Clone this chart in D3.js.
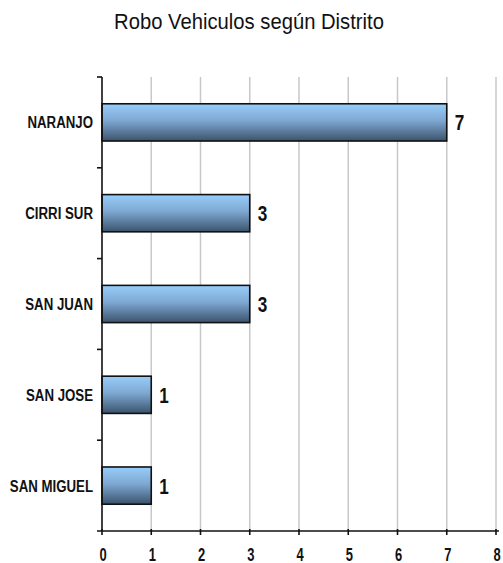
<!DOCTYPE html>
<html><head><meta charset="utf-8">
<script src="https://cdn.jsdelivr.net/npm/d3@7"></script>
<style>body{margin:0;background:#fff}svg{display:block}</style>
</head><body>
<svg id="c" width="503" height="563"></svg>
<script>
const title = "Robo Vehiculos según Distrito";
const categories = ["NARANJO", "CIRRI SUR", "SAN JUAN", "SAN JOSE", "SAN MIGUEL"];
const values = [7, 3, 3, 1, 1];
const xTicks = [0, 1, 2, 3, 4, 5, 6, 7, 8];

const svg = d3.select("#c");
const FONT = "'Liberation Sans Narrow','Arial Narrow','Liberation Sans',Arial,sans-serif";
const x = d3.scaleLinear().domain([0, 8]).range([102, 496]);
const y = d3.scaleBand().domain(categories).range([77, 531]).paddingInner(0.59).paddingOuter(0.295);
const step = y.step();

// condensed text helper: position via transform, squeeze horizontally
function place(sel, fx, fy, sx) {
  sel.attr("x", 0).attr("y", 0)
     .attr("transform", (d, i) => `translate(${fx(d, i)},${fy(d, i)}) scale(${sx},1)`);
  return sel;
}

const defs = svg.append("defs");
const g = defs.append("linearGradient").attr("id", "bg").attr("x1", 0).attr("y1", 0).attr("x2", 0).attr("y2", 1);
g.append("stop").attr("offset", "0%").attr("stop-color", "#98cdfb");
g.append("stop").attr("offset", "45%").attr("stop-color", "#7ea8d2");
g.append("stop").attr("offset", "100%").attr("stop-color", "#3b536c");

// title
place(svg.append("text").attr("text-anchor", "middle")
  .style("font-family", FONT).style("font-size", "22px").attr("fill", "#111").text(title),
  () => 249, () => 29, 0.92);

// gridlines
svg.append("g").selectAll("line").data(xTicks.filter(d => d > 0)).join("line")
  .attr("x1", d => x(d)).attr("x2", d => x(d)).attr("y1", 77).attr("y2", 531)
  .attr("stroke", "#c8c8c8").attr("stroke-width", 1.5);

// bars
svg.append("g").selectAll("rect").data(categories).join("rect")
  .attr("x", x(0)).attr("y", d => y(d))
  .attr("width", (d, i) => x(values[i]) - x(0)).attr("height", y.bandwidth())
  .attr("fill", "url(#bg)").attr("stroke", "#111").attr("stroke-width", 1.6);

// value labels
place(svg.append("g").selectAll("text").data(categories).join("text")
  .style("font-family", FONT).style("font-size", "22px").style("font-weight", "bold").attr("fill", "#111")
  .text((d, i) => values[i]),
  (d, i) => x(values[i]) + 8, d => y(d) + y.bandwidth() / 2 + 8, 0.78);

// y axis
const ya = svg.append("g");
ya.append("line").attr("x1", x(0)).attr("x2", x(0)).attr("y1", 77).attr("y2", 531)
  .attr("stroke", "#111").attr("stroke-width", 1.6);
const bounds = categories.map(d => y(d) - y.paddingInner() * step / 2);
ya.selectAll("line.t").data(bounds).join("line").attr("class", "t")
  .attr("x1", x(0) - 5).attr("x2", x(0)).attr("y1", d => d).attr("y2", d => d)
  .attr("stroke", "#111").attr("stroke-width", 1.6);
place(ya.selectAll("text").data(categories).join("text").attr("text-anchor", "end")
  .style("font-family", FONT).style("font-size", "17px").style("font-weight", "bold")
  .attr("fill", "#111").text(d => d),
  () => 93, d => y(d) + y.bandwidth() / 2 + 6, 0.78);

// x axis
const xa = svg.append("g");
xa.append("line").attr("x1", x(0) - 5).attr("x2", x(8) + 3).attr("y1", 531).attr("y2", 531)
  .attr("stroke", "#111").attr("stroke-width", 1.6);
xa.selectAll("line.t").data(xTicks).join("line").attr("class", "t")
  .attr("x1", d => x(d)).attr("x2", d => x(d)).attr("y1", 529).attr("y2", 535)
  .attr("stroke", "#111").attr("stroke-width", 1.6);
place(xa.selectAll("text").data(xTicks).join("text").attr("text-anchor", "middle")
  .style("font-family", FONT).style("font-size", "18px").style("font-weight", "bold")
  .attr("fill", "#111").text(d => d),
  d => x(d) + 1, () => 561, 0.72);
</script>
</body></html>
